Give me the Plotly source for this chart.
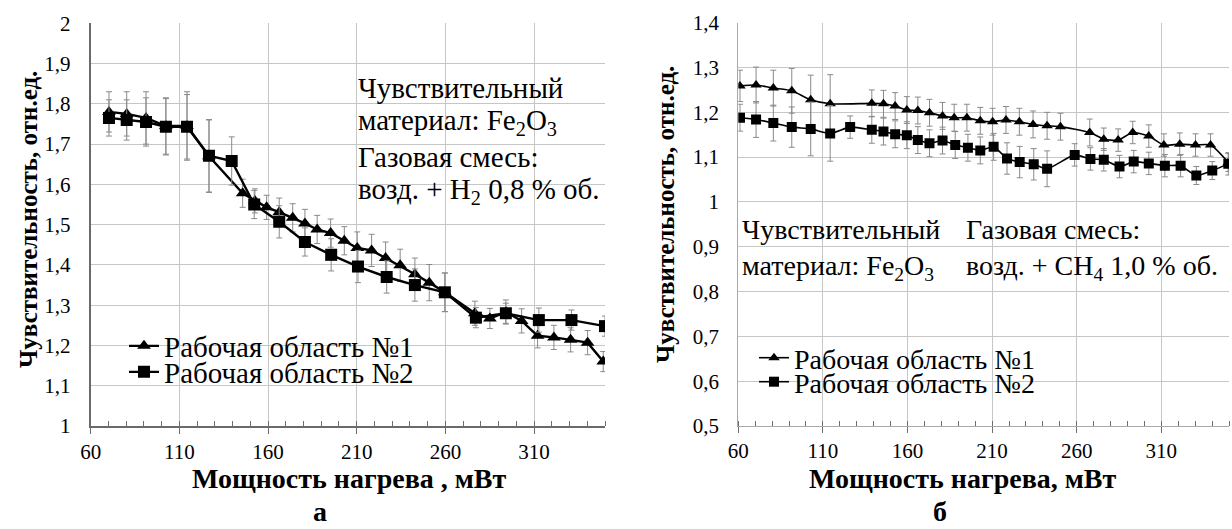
import plotly.graph_objects as go

# ---------- data: panel "а" (H2) ----------
x1_a = [70.3, 80.3, 91.2, 102.4, 114.3, 126.7, 145.7, 152.6, 159.2, 166.3, 173.9, 180.8, 187.7, 195.3, 203.0,
        210.3, 218.4, 226.3, 234.5, 242.8, 250.9, 259.7, 276.6, 285.1, 294.1, 303.0, 312.0, 321.2, 330.6, 340.2, 349.0]
y1_a = [1.780, 1.775, 1.765, 1.745, 1.745, 1.670, 1.578, 1.559, 1.543, 1.531, 1.517, 1.503, 1.488, 1.479, 1.460,
        1.442, 1.436, 1.417, 1.399, 1.377, 1.356, 1.332, 1.280, 1.267, 1.283, 1.261, 1.224, 1.220, 1.214, 1.207, 1.160]
e1_a = [0.05, 0.055, 0.065, 0.07, 0.085, 0.09, 0.035, 0.03, 0.03, 0.035, 0.035, 0.035, 0.035, 0.035, 0.035,
        0.04, 0.04, 0.04, 0.04, 0.04, 0.045, 0.048, 0.03, 0.025, 0.03, 0.03, 0.03, 0.03, 0.03, 0.03, 0.025]

x1_b = [70.3, 80.3, 91.2, 102.4, 114.3, 126.7, 139.5, 152.2, 166.3, 180.8, 195.6, 210.7, 226.9, 242.8, 259.7,
        277.2, 294.1, 312.7, 331.1, 350.0]
y1_b = [1.765, 1.760, 1.755, 1.743, 1.743, 1.671, 1.658, 1.550, 1.507, 1.457, 1.425, 1.396, 1.370, 1.350, 1.332,
        1.269, 1.280, 1.263, 1.263, 1.248]
e1_b = [0.045, 0.05, 0.06, 0.07, 0.08, 0.09, 0.06, 0.035, 0.04, 0.035, 0.04, 0.04, 0.04, 0.04, 0.048,
        0.025, 0.025, 0.03, 0.025, 0.025]

# ---------- data: panel "б" (CH4) ----------
x2_a = [61.0, 70.5, 80.7, 91.6, 102.8, 114.3, 138.9, 145.8, 152.7, 159.6, 166.1, 173.0, 180.7, 187.6, 195.1,
        203.0, 210.3, 218.2, 226.1, 234.2, 242.5, 250.4, 267.7, 276.0, 284.5, 293.1, 302.6, 311.5, 320.9, 330.2,
        339.1, 349.6]
y2_a = [1.259, 1.261, 1.254, 1.248, 1.228, 1.219, 1.220, 1.219, 1.214, 1.205, 1.204, 1.199, 1.192, 1.188, 1.188,
        1.181, 1.179, 1.183, 1.179, 1.173, 1.170, 1.168, 1.155, 1.140, 1.138, 1.155, 1.147, 1.127, 1.129, 1.127,
        1.127, 1.088]
e2_a = [0.035, 0.04, 0.04, 0.05, 0.055, 0.065, 0.03, 0.03, 0.03, 0.03, 0.03, 0.03, 0.03, 0.03, 0.03,
        0.03, 0.03, 0.03, 0.03, 0.03, 0.03, 0.03, 0.03, 0.025, 0.025, 0.025, 0.025, 0.025, 0.025, 0.025,
        0.025, 0.02]

x2_b = [61.0, 70.5, 80.7, 91.6, 102.8, 114.3, 126.1, 138.9, 145.8, 152.7, 159.6, 166.1, 173.0, 180.7, 188.2,
        195.7, 203.0, 210.9, 218.8, 226.3, 234.6, 242.5, 258.8, 268.1, 276.0, 285.3, 293.7, 302.6, 312.1, 321.4,
        330.7, 340.1, 349.6]
y2_b = [1.188, 1.184, 1.176, 1.167, 1.163, 1.153, 1.167, 1.161, 1.157, 1.151, 1.149, 1.138, 1.131, 1.137, 1.127,
        1.121, 1.115, 1.123, 1.097, 1.089, 1.084, 1.074, 1.105, 1.096, 1.094, 1.079, 1.090, 1.086, 1.081, 1.081,
        1.059, 1.070, 1.085]
e2_b = [0.03, 0.04, 0.04, 0.045, 0.06, 0.062, 0.025, 0.03, 0.03, 0.03, 0.03, 0.03, 0.03, 0.03, 0.03,
        0.03, 0.03, 0.03, 0.035, 0.035, 0.035, 0.04, 0.025, 0.025, 0.025, 0.025, 0.025, 0.025, 0.025, 0.025,
        0.02, 0.02, 0.025]

series_names = ["Рабочая область №1", "Рабочая область №2"]
x_ticks = [60, 110, 160, 210, 260, 310]
x_title_a = "Мощность нагрева , мВт"
x_title_b = "Мощность нагрева, мВт"
y_title = "Чувствительность, отн.ед."

FONT = "Times New Roman, Liberation Serif, DejaVu Serif, serif"
W, H = 1232, 529

def px(v):
    return v / W

def py(v):
    return 1 - v / H

fig = go.Figure()

def add_series(x, y, e, name, symbol, xa, ya, legend, lw, ms, shape):
    fig.add_trace(go.Scatter(
        x=x, y=y, name=name, mode="lines+markers", xaxis=xa, yaxis=ya, legend=legend, showlegend=True,
        line=dict(color="black", width=lw, shape=shape, smoothing=0.6),
        marker=dict(symbol=symbol, size=ms, color="black"),
        error_y=dict(type="data", array=e, visible=True, color="#8a8a8a", thickness=1, width=3),
    ))

add_series(x1_a, y1_a, e1_a, series_names[0], "triangle-up", "x", "y", "legend", 2.4, 12, "linear")
add_series(x1_b, y1_b, e1_b, series_names[1], "square", "x", "y", "legend2", 2.4, 12, "linear")
add_series(x2_a, y2_a, e2_a, series_names[0], "triangle-up", "x2", "y2", "legend3", 1.6, 10, "spline")
add_series(x2_b, y2_b, e2_b, series_names[1], "square", "x2", "y2", "legend4", 1.6, 10, "spline")

grid = "#c6c6c6"
common_x = dict(range=[60, 350], tickvals=x_ticks, showgrid=True, gridcolor=grid, gridwidth=1,
                ticks="outside", ticklen=6, tickcolor="#6e6e6e", automargin=False,
                minor=dict(dtick=10, tick0=60, ticks="inside", ticklen=5, tickcolor="#6e6e6e", showgrid=False),
                tickfont=dict(family=FONT, size=21, color="black"), zeroline=False, showline=True, mirror=False)
common_y = dict(showgrid=True, gridcolor=grid, gridwidth=1, ticks="", zeroline=False, showline=True,
                automargin=False,
                tickfont=dict(family=FONT, size=21, color="black"), ticklabelstandoff=14)

def leg(x, y, size):
    return dict(x=px(x), y=py(y), xanchor="left", yanchor="middle", bgcolor="rgba(0,0,0,0)",
                font=dict(family=FONT, size=size, color="black"), itemwidth=30, tracegroupgap=0,
                visible=True)

fig.update_layout(
    width=W, height=H, margin=dict(l=0, r=0, t=0, b=0, autoexpand=False),
    paper_bgcolor="white", plot_bgcolor="white", separators=", ", showlegend=True,
    font=dict(family=FONT, color="black"),
    xaxis=dict(domain=[px(90.7), px(605)], anchor="y", linecolor="#6a6a6a", linewidth=2, **common_x),
    yaxis=dict(domain=[py(426), py(23.3)], anchor="x", range=[1, 2], dtick=0.1,
               linecolor="#6a6a6a", linewidth=2, **common_y),
    xaxis2=dict(domain=[px(738.3), px(1229)], anchor="y2", linecolor="#a8a8a8", linewidth=1, **common_x),
    yaxis2=dict(domain=[py(426), py(22.7)], anchor="x2", range=[0.5, 1.4], dtick=0.1,
                linecolor="#a8a8a8", linewidth=1, **common_y),
    legend=leg(124, 346, 29),
    legend2=leg(124, 372, 29),
    legend3=leg(754, 358, 28),
    legend4=leg(754, 382, 28),
)

ann = []
def text(x, y, s, size, anchor="left", bold=False, angle=0):
    ann.append(dict(x=px(x), y=py(y), xref="paper", yref="paper", text=("<b>%s</b>" % s) if bold else s,
                    showarrow=False, xanchor=anchor, yanchor="middle", textangle=angle,
                    font=dict(family=FONT, size=size, color="black")))

# panel а inset text
text(356, 88, "Чувствительный", 29)
text(356, 122, "материал: Fe<sub>2</sub>O<sub>3</sub>", 29)
text(356, 157, "Газовая смесь:", 29)
text(356, 191, "возд. + H<sub>2</sub> 0,8 % об.", 29)
# panel б inset text
text(740, 230, "Чувствительный", 28)
text(740, 267, "материал: Fe<sub>2</sub>O<sub>3</sub>", 28)
text(964, 230, "Газовая смесь:", 28)
text(964, 267, "возд. + CH<sub>4</sub> 1,0 % об.", 28)
# axis titles
text(349, 478, x_title_a, 28, anchor="center", bold=True)
text(963, 478, x_title_b, 28, anchor="center", bold=True)
text(28, 220, y_title, 25, anchor="center", bold=True, angle=-90)
text(665, 215, y_title, 25, anchor="center", bold=True, angle=-90)
# panel letters
text(320, 511, "а", 28, anchor="center", bold=True)
text(940, 511, "б", 28, anchor="center", bold=True)

fig.update_layout(annotations=ann)
fig.write_html("out.html", config={"displayModeBar": False},
               post_script="document.body.style.margin='0';document.body.style.overflow='hidden';")
